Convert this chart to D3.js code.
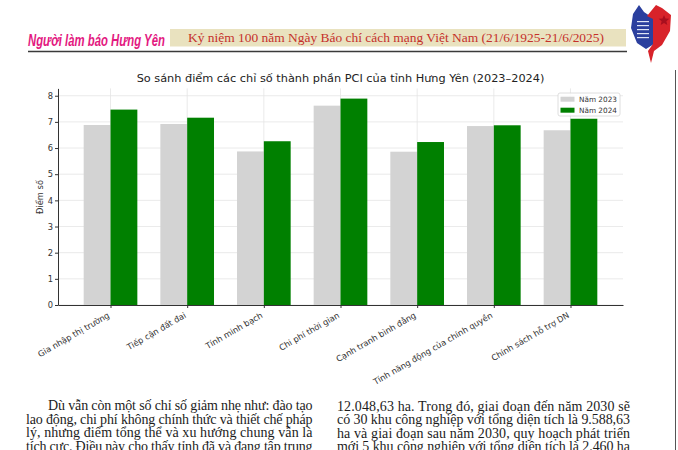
<!DOCTYPE html>
<html>
<head>
<meta charset="utf-8">
<script src="https://cdn.jsdelivr.net/npm/d3@7/dist/d3.min.js"></script>
<style>
html,body{margin:0;padding:0;background:#fff;}
svg{display:block;}
</style>
</head>
<body>
<svg id="c" width="678" height="450"></svg>
<script>
// ---- data ----
const categories = ["Gia nhập thị trường","Tiếp cận đất đai","Tính minh bạch","Chi phí thời gian","Cạnh tranh bình đẳng","Tính năng động của chính quyền","Chính sách hỗ trợ DN"];
const values2023 = [6.88, 6.92, 5.87, 7.62, 5.86, 6.84, 6.68];
const values2024 = [7.47, 7.16, 6.26, 7.89, 6.23, 6.87, 7.12];
const seriesNames = ["Năm 2023","Năm 2024"];
const yTicks = [0,1,2,3,4,5,6,7,8];
const chartTitle = "So sánh điểm các chỉ số thành phần PCI của tỉnh Hưng Yên (2023–2024)";
const yLabel = "Điểm số";
const headerLeft = "Người làm báo Hưng Yên";
const headerBanner = "Kỷ niệm 100 năm Ngày Báo chí cách mạng Việt Nam (21/6/1925-21/6/2025)";
const leftColumn = [
  "Dù vẫn còn một số chỉ số giảm nhẹ như: đào tạo",
  "lao động, chi phí không chính thức và thiết chế pháp",
  "lý, nhưng điểm tổng thể và xu hướng chung vẫn là",
  "tích cực. Điều này cho thấy tỉnh đã và đang tập trung"
];
const rightColumn = [
  "12.048,63 ha. Trong đó, giai đoạn đến năm 2030 sẽ",
  "có 30 khu công nghiệp với tổng diện tích là 9.588,63",
  "ha và giai đoạn sau năm 2030, quy hoạch phát triển",
  "mới 5 khu công nghiệp với tổng diện tích là 2.460 ha"
];

const svg = d3.select("#c");

// ---- page header ----
const pink = svg.append("text").attr("x",0).attr("y",0)
  .attr("font-family","'Liberation Sans Narrow','Liberation Sans',Arial,sans-serif")
  .attr("font-weight","bold").attr("font-style","italic").attr("font-size",17)
  .attr("fill","#e3197f").text(headerLeft);
const pw = pink.node().getComputedTextLength() || 137;
pink.attr("transform",`translate(28,46) scale(${137/pw},1)`);

svg.append("rect").attr("x",170).attr("y",29).attr("width",456).attr("height",17.5).attr("fill","#e9e2bf");
svg.append("text").attr("x",188).attr("y",41.6)
  .attr("font-family","'Liberation Serif','Times New Roman',serif").attr("font-size",13)
  .attr("fill","#c5302b").attr("textLength",416).attr("lengthAdjust","spacingAndGlyphs")
  .text(headerBanner);
svg.append("line").attr("x1",28).attr("x2",627).attr("y1",51.5).attr("y2",51.5)
  .attr("stroke","#3a3a3a").attr("stroke-width",1.3);

// logo (approximation)
const logo = svg.append("g");
logo.append("path").attr("d","M633,14 L639,5 L644,12 L653,18 L654,44 L646,49 L637,43 L631,28 Z").attr("fill","#2b3f9e");
logo.append("path").attr("d","M647,16 L656,5 L662,8 L671,15 L670,31 L662,45 L654,51 L651,63 L648,51 L653,44 L653,19 Z").attr("fill","#d8232a");
logo.append("path").attr("d","M664,15 l1.5,3.5 3.8,0.3 -2.9,2.4 0.9,3.7 -3.3,-2 -3.3,2 0.9,-3.7 -2.9,-2.4 3.8,-0.3 Z").attr("fill","#a80f1e");
for(let i=0;i<5;i++){
  logo.append("rect").attr("x",637).attr("y",21+i*4).attr("width",12).attr("height",1.2).attr("fill","#dfe4f5");
}
svg.append("line").attr("x1",675.5).attr("x2",675.5).attr("y1",70).attr("y2",450).attr("stroke","#555").attr("stroke-width",1);

// ---- chart ----
const x = d3.scaleLinear().domain([-0.685, 6.685]).range([58, 623]);
const y = d3.scaleLinear().domain([0, 8.28]).range([305, 88.4]);
const bw = 0.35;
const tickFont = "'DejaVu Sans',sans-serif";

const grid = svg.append("g");
grid.selectAll("line.h").data(yTicks).join("line")
  .attr("x1",x.range()[0]).attr("x2",x.range()[1])
  .attr("y1",d=>y(d)).attr("y2",d=>y(d))
  .attr("stroke","#e4e4e4").attr("stroke-width",0.8);
grid.selectAll("line.v").data(categories).join("line")
  .attr("x1",(d,i)=>x(i)).attr("x2",(d,i)=>x(i))
  .attr("y1",y.range()[0]).attr("y2",y.range()[1])
  .attr("stroke","#e4e4e4").attr("stroke-width",0.8);

svg.append("g").selectAll("rect").data(values2023).join("rect")
  .attr("x",(d,i)=>x(i-bw)).attr("width",x(bw)-x(0))
  .attr("y",d=>y(d)).attr("height",d=>y(0)-y(d)).attr("fill","#d3d3d3");
svg.append("g").selectAll("rect").data(values2024).join("rect")
  .attr("x",(d,i)=>x(i)).attr("width",x(bw)-x(0))
  .attr("y",d=>y(d)).attr("height",d=>y(0)-y(d)).attr("fill","#008000");

// y axis
const yAxis = svg.append("g").attr("transform","translate(58,0)")
  .call(d3.axisLeft(y).tickValues(yTicks).tickFormat(d3.format("d")).tickSize(3).tickPadding(2).tickSizeOuter(0));
yAxis.select(".domain").attr("stroke","#333").attr("stroke-width",1);
yAxis.selectAll(".tick line").attr("stroke","#333");
yAxis.selectAll("text").attr("font-family",tickFont).attr("font-size",8.3).attr("fill","#333");

// x axis
const xAxis = svg.append("g").attr("transform","translate(0,305)")
  .call(d3.axisBottom(x).tickValues(d3.range(categories.length)).tickFormat(i=>categories[i]).tickSize(3).tickSizeOuter(0));
xAxis.select(".domain").attr("stroke","#333").attr("stroke-width",1);
xAxis.selectAll(".tick line").attr("stroke","#333");
xAxis.selectAll("text").attr("font-family",tickFont).attr("font-size",8.3).attr("fill","#333")
  .attr("text-anchor","end").attr("dy",null).attr("y",null)
  .attr("transform","translate(-1,12) rotate(-30)");

// y label
svg.append("text").attr("transform","translate(43,197) rotate(-90)")
  .attr("text-anchor","middle").attr("font-family",tickFont).attr("font-size",8.3).attr("fill","#333")
  .text(yLabel);

// title
svg.append("text").attr("x",340.5).attr("y",82).attr("text-anchor","middle")
  .attr("font-family",tickFont).attr("font-size",11.3).attr("fill","#222")
  .text(chartTitle);

// legend
const lg = svg.append("g");
lg.append("rect").attr("x",558).attr("y",93).attr("width",62).attr("height",23).attr("rx",2)
  .attr("fill","#fff").attr("fill-opacity",0.85).attr("stroke","#d6d6d6").attr("stroke-width",0.8);
const legColors = ["#d3d3d3","#008000"];
seriesNames.forEach((n,i)=>{
  lg.append("rect").attr("x",560.5).attr("y",96.7+i*11).attr("width",14).attr("height",5).attr("fill",legColors[i]);
  lg.append("text").attr("x",579).attr("y",102+i*11).attr("font-family",tickFont).attr("font-size",7.3).attr("fill","#333").text(n);
});

// ---- body text ----
const serif = "'Liberation Serif','Times New Roman',serif";
leftColumn.forEach((t,i)=>{
  const x0 = i===0 ? 48 : 26;
  svg.append("text").attr("x",x0).attr("y",410+i*13.6)
    .attr("font-family",serif).attr("font-size",14).attr("fill","#1c1c1c")
    .attr("textLength",312.5-x0).attr("lengthAdjust","spacing").text(t);
});
rightColumn.forEach((t,i)=>{
  svg.append("text").attr("x",337).attr("y",410.5+i*13.6)
    .attr("font-family",serif).attr("font-size",14).attr("fill","#1c1c1c")
    .attr("textLength",293).attr("lengthAdjust","spacing").text(t);
});
</script>
</body>
</html>
